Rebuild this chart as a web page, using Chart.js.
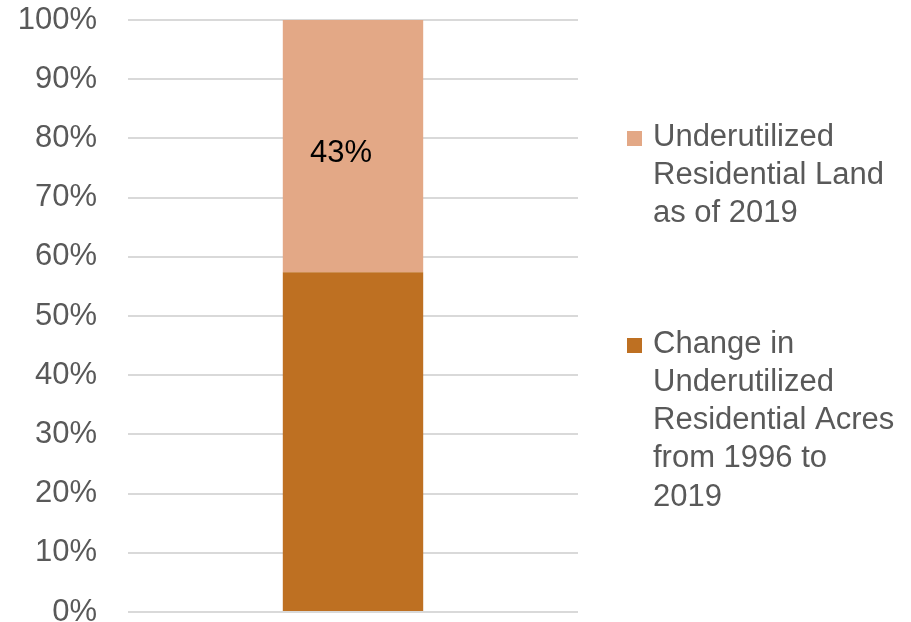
<!DOCTYPE html>
<html>
<head>
<meta charset="utf-8">
<script src="https://cdn.jsdelivr.net/npm/chart.js@4"></script>
<style>
  html, body { margin: 0; padding: 0; background: #fff; }
  #wrap { width: 911px; height: 622px; }
</style>
</head>
<body>
<div id="wrap"><canvas id="chart" width="911" height="622"></canvas></div>
<script>
// data
const categories = [""];
const changeAcres = [57.4];    // Change in Underutilized Residential Acres from 1996 to 2019
const underutilized = [42.6];  // Underutilized Residential Land as of 2019
const yTicks = [0, 10, 20, 30, 40, 50, 60, 70, 80, 90, 100];

// legend text, already split into lines as in the picture
const legendLines = [
  ["Underutilized", "Residential Land", "as of 2019"],
  ["Change in", "Underutilized", "Residential Acres", "from 1996 to", "2019"]
];

const FONT = "'Liberation Sans', Arial, sans-serif";

// draws the right-hand legend and the value label on the top segment
const extrasPlugin = {
  id: "extras",
  afterDatasetsDraw(chart) {
    const ctx = chart.ctx;
    ctx.save();
    ctx.font = "31px " + FONT;
    ctx.textBaseline = "middle";

    // value label in the top segment (sits a little left of centre in the original)
    const bar = chart.getDatasetMeta(1).data[0];
    ctx.fillStyle = "#000";
    ctx.textAlign = "center";
    ctx.fillText(Math.round(underutilized[0]) + "%", bar.x - 12, 153);

    // legend: top series first, like the picture
    const order = [1, 0];
    const starts = [137, 344];
    const lineH = 38.3;
    ctx.textAlign = "left";
    order.forEach((dsIndex, i) => {
      const ds = chart.data.datasets[dsIndex];
      const y0 = starts[i];
      ctx.fillStyle = ds.backgroundColor;
      ctx.fillRect(627, y0 - 6, 15, 15);
      ctx.fillStyle = "#595959";
      legendLines[i].forEach((line, j) => {
        ctx.fillText(line, 653, y0 + j * lineH);
      });
    });
    ctx.restore();
  }
};

new Chart(document.getElementById("chart"), {
  type: "bar",
  data: {
    labels: categories,
    datasets: [
      {
        label: "Change in Underutilized Residential Acres from 1996 to 2019",
        data: changeAcres,
        backgroundColor: "#BE7022",
        categoryPercentage: 1,
        barPercentage: 0.312
      },
      {
        label: "Underutilized Residential Land as of 2019",
        data: underutilized,
        backgroundColor: "#E3A886",
        categoryPercentage: 1,
        barPercentage: 0.312
      }
    ]
  },
  options: {
    responsive: false,
    animation: false,
    layout: { padding: { top: 20, right: 333, bottom: 10, left: 0 } },
    plugins: {
      legend: { display: false },
      tooltip: { enabled: false }
    },
    scales: {
      x: {
        stacked: true,
        display: false
      },
      y: {
        stacked: true,
        min: 0,
        max: 100,
        afterBuildTicks: axis => { axis.ticks = yTicks.map(v => ({ value: v })); },
        afterFit: axis => {
          axis.width = 128;
          axis.paddingTop = 0;
          axis.paddingBottom = 0;
        },
        border: { display: false },
        grid: { color: "#D9D9D9", lineWidth: 2, drawTicks: false },
        ticks: {
          padding: 31,
          color: "#595959",
          font: { family: FONT, size: 31 },
          callback: v => v + "%"
        }
      }
    }
  },
  plugins: [extrasPlugin]
});
</script>
</body>
</html>
